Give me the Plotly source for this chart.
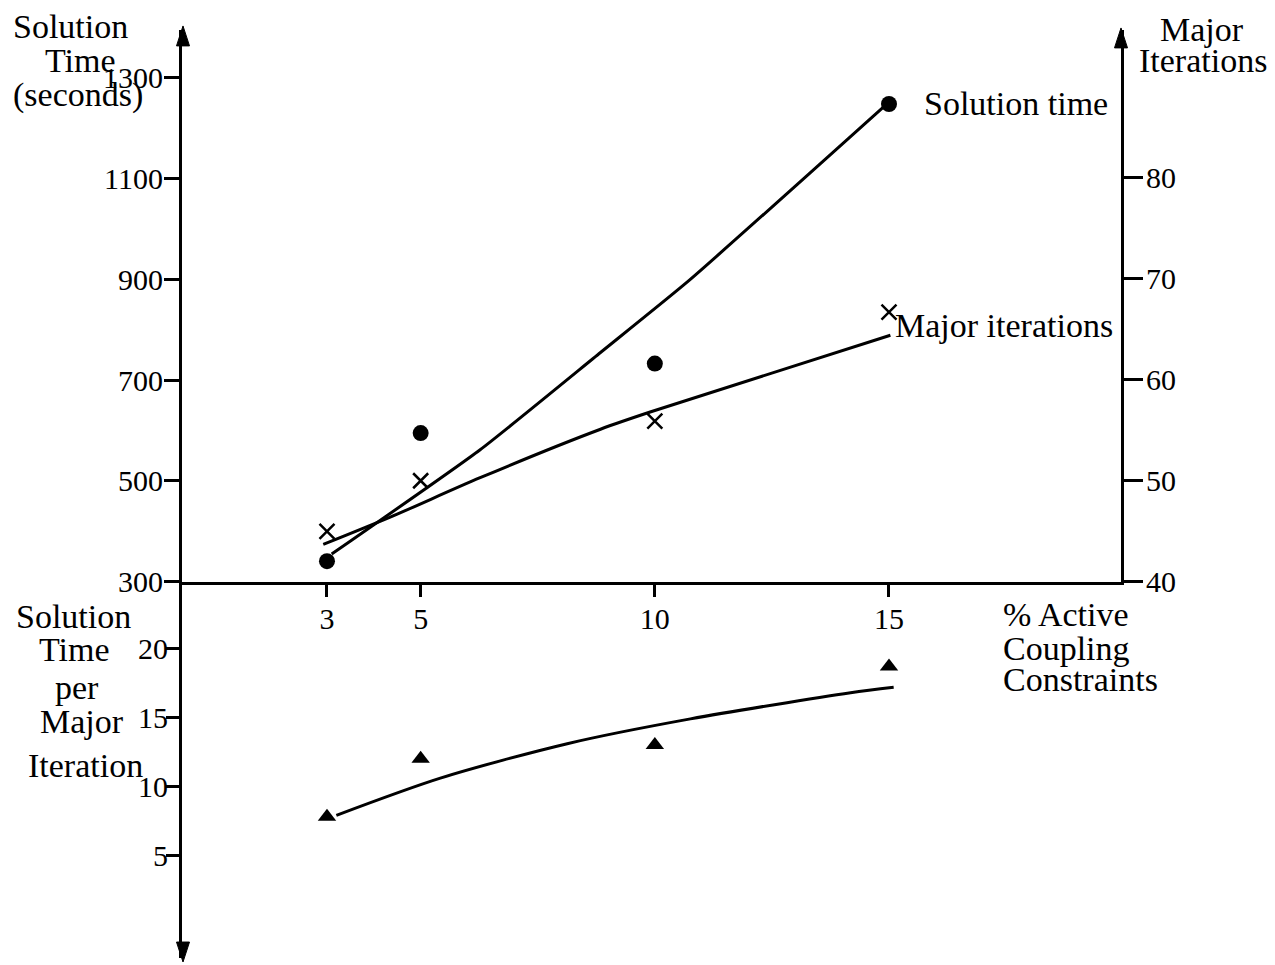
import plotly.graph_objects as go

W, H = 1275, 965          # reference picture size (positions are fractions of it)
FIG_H = 980               # rendered page height that the viewer scales to 965

# ---- data ----
pct_active = [3, 5, 10, 15]
solution_time = [341, 595, 733, 1248]          # seconds (left, upper)
major_iterations = [45.0, 50.0, 55.9, 66.7]    # right axis
time_per_iteration = [7.8, 12.0, 13.0, 18.7]   # lower left axis

sol_curve_x = [3.1, 6.27, 8.84, 10.72, 14.88]
sol_curve_y = [355, 562, 755, 897, 1242]
iter_curve_x = [2.92, 4.35, 6.27, 8.84, 9.9, 15.03]
iter_curve_y = [43.7, 46.4, 50.3, 55.1, 56.8, 64.4]
tpi_curve_x = [3.2, 5.42, 8.13, 10.76, 14.18, 15.1]
tpi_curve_y = [7.9, 10.6, 13.1, 14.9, 16.8, 17.2]

x_ticks = [3, 5, 10, 15]
y_left_ticks = [300, 500, 700, 900, 1100, 1300]
y_right_ticks = [40, 50, 60, 70, 80]
y_low_ticks = [5, 10, 15, 20]

FONT = "Liberation Serif"
BLK = "black"


def px(x):
    return x / W


def py(y):
    return 1 - y / H


fig = go.Figure()

# upper panel
fig.add_trace(go.Scatter(x=sol_curve_x, y=sol_curve_y, mode="lines",
                         line=dict(color=BLK, width=3, shape="spline", smoothing=0.5),
                         xaxis="x", yaxis="y", showlegend=False, hoverinfo="skip"))
fig.add_trace(go.Scatter(x=pct_active, y=solution_time, mode="markers",
                         marker=dict(symbol="circle", size=16, color=BLK),
                         xaxis="x", yaxis="y", showlegend=False))
fig.add_trace(go.Scatter(x=iter_curve_x, y=iter_curve_y, mode="lines",
                         line=dict(color=BLK, width=3, shape="spline", smoothing=0.8),
                         xaxis="x", yaxis="y2", showlegend=False, hoverinfo="skip"))
fig.add_trace(go.Scatter(x=pct_active, y=major_iterations, mode="markers",
                         marker=dict(symbol="x-thin", size=15, color=BLK,
                                     line=dict(color=BLK, width=2.5)),
                         xaxis="x", yaxis="y2", showlegend=False))
# lower panel
fig.add_trace(go.Scatter(x=tpi_curve_x, y=tpi_curve_y, mode="lines",
                         line=dict(color=BLK, width=3, shape="spline", smoothing=0.8),
                         xaxis="x2", yaxis="y3", showlegend=False, hoverinfo="skip"))
fig.add_trace(go.Scatter(x=pct_active, y=time_per_iteration, mode="markers",
                         marker=dict(symbol="triangle-up", size=16, color=BLK),
                         xaxis="x2", yaxis="y3", showlegend=False))

x_dom = [px(182), px(1121)]
x_rng = [-0.096, 19.954]
up_dom = [py(583), py(30)]
low_dom = [py(960), py(583)]

tickfont = dict(family=FONT, size=30, color=BLK)
common = dict(showgrid=False, zeroline=False, showline=True, linecolor=BLK,
              linewidth=3, ticks="outside", tickcolor=BLK, tickwidth=2.5,
              tickfont=tickfont, tickmode="array")

fig.update_layout(
    width=W, height=FIG_H, autosize=False,
    margin=dict(l=0, r=0, t=0, b=0),
    paper_bgcolor="white", plot_bgcolor="white",
    font=dict(family=FONT, color=BLK),
    xaxis=dict(domain=x_dom, range=x_rng, anchor="y", tickvals=x_ticks,
               ticklen=12, ticklabelstandoff=-4, **common),
    xaxis2=dict(domain=x_dom, range=x_rng, anchor="y3", visible=False),
    yaxis=dict(domain=up_dom, range=[300, 1395.0], anchor="x",
               tickvals=y_left_ticks, ticklen=15, ticklabelstandoff=-5, **common),
    yaxis2=dict(domain=up_dom, range=[40, 94.62], anchor="x", overlaying="y",
                side="right", tickvals=y_right_ticks, ticklen=19,
                ticklabelstandoff=-3, **common),
    yaxis3=dict(domain=low_dom, range=[-2.464, 24.855], anchor="x2",
                tickvals=y_low_ticks, ticklen=13, ticklabelstandoff=-8, **common),
)

# arrow heads on the axes
def tri(tip, base_y, half=6.5):
    tx, ty = tip
    return (f"M {px(tx)} {py(ty)} L {px(tx - half)} {py(base_y)} "
            f"L {px(tx + half)} {py(base_y)} Z")

shapes = [
    dict(type="path", path=tri((183, 26), 46), xref="paper", yref="paper",
         fillcolor=BLK, line=dict(color=BLK, width=1)),
    dict(type="path", path=tri((1121, 28), 48), xref="paper", yref="paper",
         fillcolor=BLK, line=dict(color=BLK, width=1)),
    dict(type="path", path=tri((183, 964), 944), xref="paper", yref="paper",
         fillcolor=BLK, line=dict(color=BLK, width=1)),
]
fig.update_layout(shapes=shapes)

labels = [
    ("Solution", 70, 27, "center"),
    ("Time", 80, 61, "center"),
    ("(seconds)", 78, 95, "center"),
    ("Major", 1202, 30, "center"),
    ("Iterations", 1203, 61, "center"),
    ("Solution time", 922, 104, "left"),
    ("Major iterations", 893, 326, "left"),
    ("% Active", 1001, 616, "left"),
    ("Coupling", 1001, 650, "left"),
    ("Constraints", 1001, 681, "left"),
    ("Solution", 73, 618, "center"),
    ("Time", 74, 651, "center"),
    ("per", 77, 689, "center"),
    ("Major", 82, 723, "center"),
    ("Iteration", 85, 767, "center"),
]
annotations = []
for text, x, y, anc in labels:
    annotations.append(dict(text=text, x=px(x), y=py(y), xref="paper", yref="paper",
                            xanchor=anc, yanchor="middle", showarrow=False,
                            font=dict(family=FONT, size=34, color=BLK)))
fig.update_layout(annotations=annotations)

fig.write_html("out.html",
               config={"responsive": False, "displayModeBar": False},
               post_script="document.body.style.margin='0';"
                           "document.body.style.overflow='hidden';")
